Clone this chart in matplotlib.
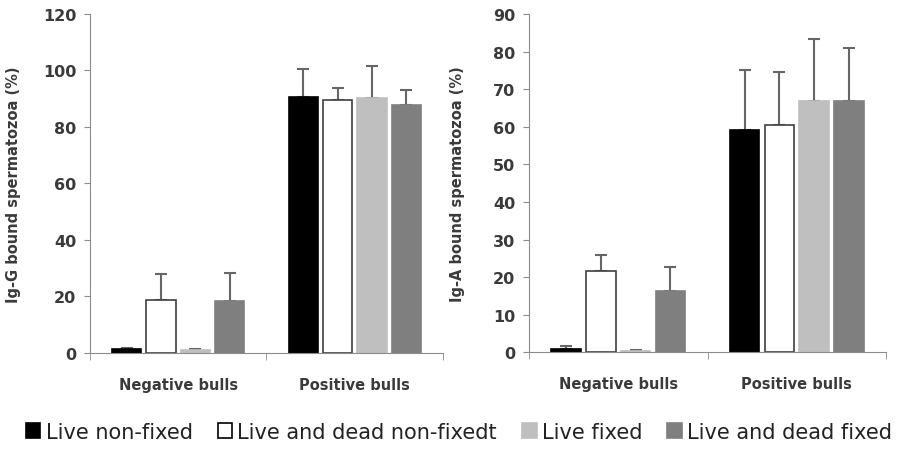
import numpy as np
import matplotlib.pyplot as plt
from matplotlib.patches import Patch

plt.rcParams['font.family'] = ['DejaVu Sans']

# data
groups = ['Negative bulls', 'Positive bulls']
series = ['Live non-fixed', 'Live and dead non-fixedt', 'Live fixed', 'Live and dead fixed']
colors = ['#000000', '#ffffff', '#bfbfbf', '#7f7f7f']

igg_mean = [[1.4, 90.4], [18.7, 89.3], [1.0, 90.1], [18.4, 87.6]]
igg_err = [[0.5, 10.2], [9.2, 4.5], [0.5, 11.3], [9.9, 5.4]]

iga_mean = [[1.0, 59.1], [21.5, 60.4], [0.3, 66.9], [16.3, 66.9]]
iga_err = [[0.6, 16.0], [4.5, 14.2], [0.3, 16.4], [6.3, 14.1]]

fig = plt.figure(figsize=(9, 4.52), dpi=100)
ax1 = fig.add_axes([0.1, 0.2168, 0.3922, 0.7507])
ax2 = fig.add_axes([0.5878, 0.2184, 0.3967, 0.7484])

x = np.arange(len(groups))
width = 0.165
step = 0.195
axcol = '#8c8c8c'
txtcol = '#3a3a3a'


def edge(c):
    return '#404040' if c == '#ffffff' else c


def draw(ax, means, errs, ymax, ystep, ylabel, labx):
    for i in range(len(series)):
        pos = x + (i - 1.5) * step
        ax.bar(pos, means[i], width, color=colors[i], edgecolor=edge(colors[i]),
               linewidth=1.2, zorder=2)
        ax.errorbar(pos, means[i], yerr=[np.zeros(2), errs[i]], fmt='none',
                    ecolor='#666666', elinewidth=1.5, capsize=4.3, capthick=1.5, zorder=1)
    ax.set_xlim(-0.5, 1.5)
    ax.set_ylim(0, ymax)
    ax.set_yticks(np.arange(0, ymax + 1, ystep))
    ax.set_xticks(x)
    ax.set_xticklabels(groups, fontsize=10.5, fontweight='bold', color=txtcol)
    ax.set_xticks([-0.5, 0.5, 1.5], minor=True)
    ax.tick_params(axis='x', which='major', length=0, pad=17)
    ax.tick_params(axis='x', which='minor', length=5, color=axcol)
    ax.tick_params(axis='y', length=4, color=axcol, labelsize=11.5, labelcolor=txtcol, pad=6)
    for lab in ax.get_yticklabels():
        lab.set_fontweight('bold')
    ax.set_ylabel(ylabel, fontsize=10.5, fontweight='bold', color=txtcol)
    ax.yaxis.set_label_coords(labx, 0.5)
    for s in ['top', 'right']:
        ax.spines[s].set_visible(False)
    for s in ['left', 'bottom']:
        ax.spines[s].set_color(axcol)


draw(ax1, igg_mean, igg_err, 120, 20, 'Ig-G bound spermatozoa (%)', -0.195)
draw(ax2, iga_mean, iga_err, 90, 10, 'Ig-A bound spermatozoa (%)', -0.179)

handles = [Patch(facecolor=c, edgecolor='black' if c == '#ffffff' else c, linewidth=1.2)
           for c in colors]
fig.legend(handles, series, loc='center', bbox_to_anchor=(0.51, 0.042), ncol=4,
           frameon=False, fontsize=15, handlelength=0.7, handleheight=0.75,
           handletextpad=0.25, columnspacing=1.2, labelcolor='#222222')

fig.savefig('out.png', dpi=100)
